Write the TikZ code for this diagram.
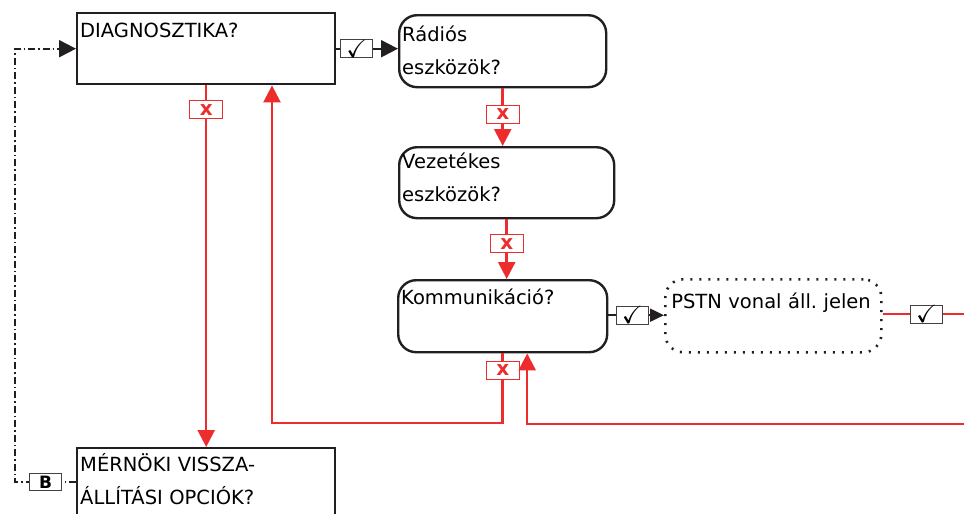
\documentclass[tikz,border=0pt]{standalone}
\usepackage{amssymb}
\usepackage{fontspec}
\setmainfont{DejaVu Sans}
\usetikzlibrary{arrows.meta}
\definecolor{alarmred}{RGB}{237,45,45}
\definecolor{inkblack}{RGB}{35,31,32}

\begin{document}
\begin{tikzpicture}[
    x=1pt, y=-1pt,
    font=\fontsize{19.5}{33.5}\selectfont,
    box/.style={draw=inkblack, line width=2.4pt, anchor=north west, align=left, inner xsep=3pt, inner ysep=0pt},
    roundbox/.style={box, rounded corners=18pt},
    dotbox/.style={roundbox, line width=2.6pt, dash pattern=on 2pt off 7pt, inner xsep=6pt},
    okbox/.style={draw=inkblack!85, solid, line width=1pt, fill=white, minimum width=32pt, minimum height=18pt, inner sep=0pt, font=\fontsize{25}{25}\selectfont},
    nobox/.style={draw=alarmred, solid, line width=1pt, fill=white, text=alarmred, minimum width=33pt, minimum height=18pt, inner sep=0pt, font=\fontsize{20}{20}\selectfont\bfseries},
    keybox/.style={draw=inkblack!85, solid, line width=1pt, fill=white, minimum width=32pt, minimum height=17pt, inner sep=0pt, font=\fontsize{17}{17}\selectfont\bfseries},
    yesline/.style={draw=inkblack, line width=2pt},
    noline/.style={draw=alarmred, line width=2.5pt},
    bigtip/.style={-{Triangle[length=17pt,width=17pt]}},
    smalltip/.style={-{Triangle[length=14pt,width=13pt]}},
    backline/.style={draw=inkblack, line width=2pt, dash pattern=on 7pt off 3pt on 1.5pt off 3pt}
  ]
  \useasboundingbox (0,0) rectangle (964,514);

  \node[box, text width=252pt, text height=24pt, text depth=47pt] (diag) at (76,12) {DIAGNOSZTIKA?};
  \node[roundbox, text width=201pt, text height=26pt, text depth=46pt] (rad) at (398,14) {Rádiós\\eszközök?};
  \node[roundbox, text width=209pt, text height=21pt, text depth=50pt] (vez) at (398,146) {Vezetékes\\eszközök?};
  \node[roundbox, text width=203pt, text height=24pt, text depth=48pt] (komm) at (397,279) {Kommunikáció?};
  \node[dotbox, text width=204pt, text height=29pt, text depth=44pt] (pstn) at (664,278) {PSTN vonal áll.\ jelen};
  \node[box, text width=252pt, text height=23pt, text depth=62pt] (mern) at (76,447) {MÉRNÖKI VISSZA-\\ÁLLÍTÁSI OPCIÓK?};

  \coordinate (back) at (272,423);
  \coordinate (inr) at (964,424);
  \coordinate (outr) at (964,314);

  \draw[yesline, bigtip] (diag.east) -- node[okbox, pos=0.33] {$\checkmark$} (diag.east -| rad.west);
  \draw[noline, bigtip] (rad.south) -- node[nobox, pos=0.45] {x} (rad.south |- vez.north);
  \draw[noline, bigtip] (vez.south) -- node[nobox, pos=0.41] {x} (vez.south |- komm.north);
  \draw[yesline, smalltip] ([yshift=1pt]komm.east) -- node[okbox, pos=0.43] {$\checkmark$} ([yshift=1pt]komm.east -| pstn.west);
  \draw[noline] (pstn.east |- outr) -- node[okbox, pos=0.54] {$\checkmark$} (outr);
  \draw[noline, bigtip] (komm.south) |- node[nobox, pos=0.12] {x} (back) -- (back |- diag.south);
  \draw[noline, bigtip] (inr) -| ([xshift=24.5pt]komm.south);
  \draw[noline, bigtip] (diag.south) -- node[nobox, pos=0.067] {x} (mern.north);
  \draw[backline, bigtip] ([yshift=-35pt]mern.north west) -- node[keybox] {B} ++(-61,0) |- (diag.west);
\end{tikzpicture}
\end{document}
